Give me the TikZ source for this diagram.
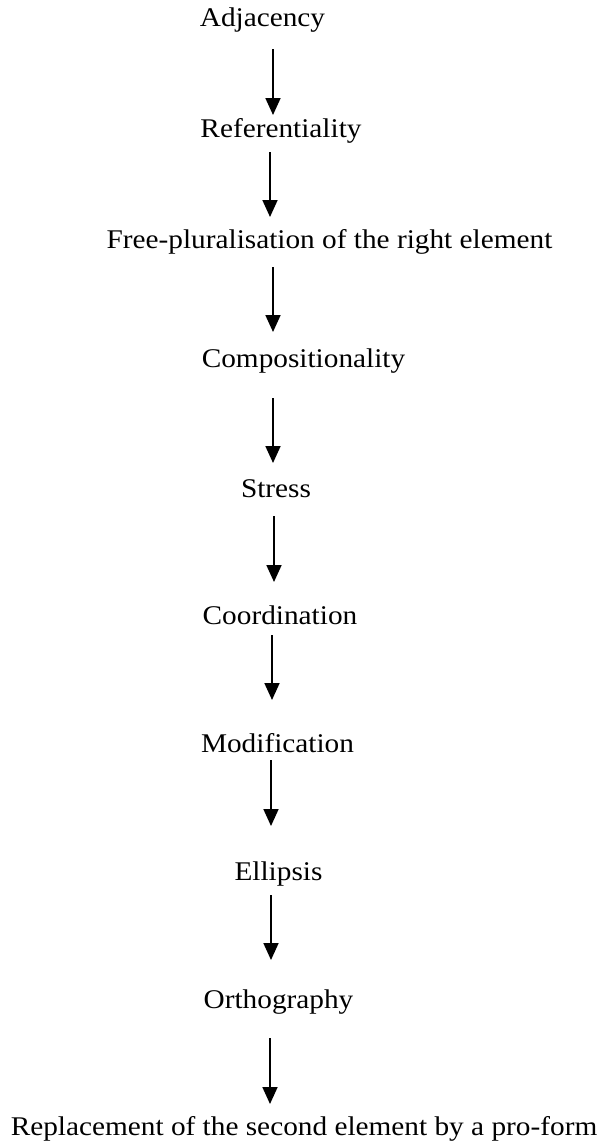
\documentclass[tikz,border=0pt]{standalone}
\usepackage{fontspec}
\setmainfont[FakeStretch=1.085]{Liberation Serif}
\usetikzlibrary{arrows.meta}
\tikzset{
  lbl/.style={anchor=base, inner sep=0pt, font=\fontsize{27}{32}\selectfont, text height=18pt, text depth=6pt},
  arr/.style={line width=1.8pt, -{Triangle[length=17pt,width=15pt]}}
}
\begin{document}
\begin{tikzpicture}[x=1pt,y=-1pt]
\useasboundingbox (0,0) rectangle (600,1143);
\node[lbl] (adj)   at (262.5,27)  {Adjacency};
\node[lbl] (ref)   at (281,137)   {Referentiality};
\node[lbl] (free)  at (329.5,248) {Free-pluralisation of the right element};
\node[lbl] (comp)  at (303.5,367) {Compositionality};
\node[lbl] (str)   at (276,497)   {Stress};
\node[lbl] (coord) at (280,624)   {Coordination};
\node[lbl] (modif) at (277.5,752) {Modification};
\node[lbl] (ell)   at (278.5,880) {Ellipsis};
\node[lbl] (orth)  at (278.5,1008) {Orthography};
\node[lbl] (repl)  at (304,1135)  {Replacement of the second element by a pro-form};
\draw[arr] ([xshift=10.5pt,yshift=-22pt]adj.base) -- ([xshift=-8pt,yshift=22pt]ref.base);
\draw[arr] ([xshift=-11pt,yshift=-15pt]ref.base) -- ([xshift=-59.5pt,yshift=31pt]free.base);
\draw[arr] ([xshift=-56.5pt,yshift=-19pt]free.base) -- ([xshift=-30.5pt,yshift=35pt]comp.base);
\draw[arr] ([xshift=-30.5pt,yshift=-31pt]comp.base) -- ([xshift=-3pt,yshift=34pt]str.base);
\draw[arr] ([xshift=-2pt,yshift=-19pt]str.base) -- ([xshift=-6pt,yshift=42pt]coord.base);
\draw[arr] ([xshift=-8pt,yshift=-11pt]coord.base) -- ([xshift=-5.5pt,yshift=52pt]modif.base);
\draw[arr] ([xshift=-6.5pt,yshift=-8pt]modif.base) -- ([xshift=-7.5pt,yshift=54pt]ell.base);
\draw[arr] ([xshift=-7.5pt,yshift=-15pt]ell.base) -- ([xshift=-7.5pt,yshift=48pt]orth.base);
\draw[arr] ([xshift=-8.5pt,yshift=-30pt]orth.base) -- ([xshift=-34pt,yshift=31pt]repl.base);
\end{tikzpicture}
\end{document}
